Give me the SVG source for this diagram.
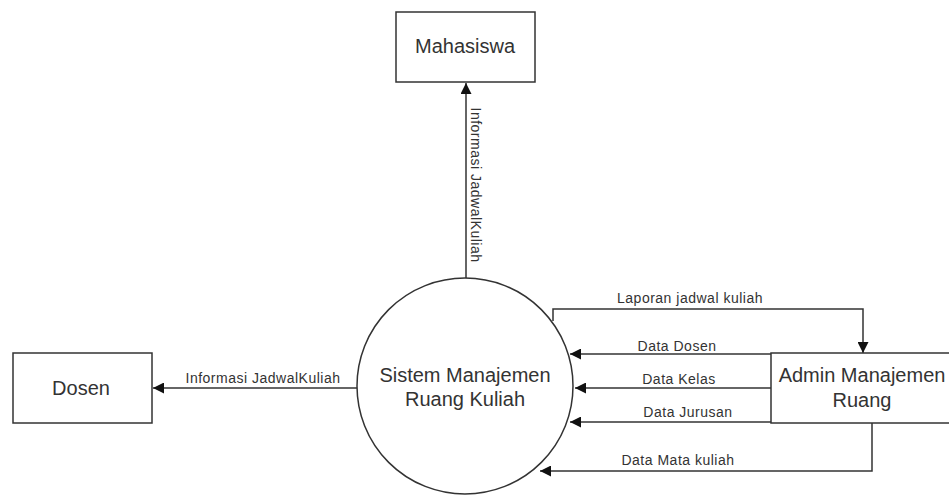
<svg xmlns="http://www.w3.org/2000/svg" width="949" height="497" viewBox="0 0 949 497">
<defs>
<style>
.box{fill:#fff;stroke:#333;stroke-width:1.5}
.ln{fill:none;stroke:#333;stroke-width:1.5}
.t{font-family:"Liberation Sans",Arial,sans-serif;fill:#333;text-anchor:middle}
.big{font-size:20px}
.sm{font-size:14px;letter-spacing:0.5px}
</style>
<marker id="ah" viewBox="0 0 10 10" refX="10" refY="5" markerWidth="13" markerHeight="11" markerUnits="userSpaceOnUse" orient="auto">
<path d="M0,0 L10,5 L0,10 z" fill="#111"/>
</marker>
</defs>
<rect width="949" height="497" fill="#fff"/>
<g id="connectors">
<path class="ln" d="M466,278 V83" marker-end="url(#ah)"/>
<path class="ln" d="M357,388 H153" marker-end="url(#ah)"/>
<path class="ln" d="M553,321 V309 H863 V353" marker-end="url(#ah)"/>
<path class="ln" d="M771,354 H570" marker-end="url(#ah)"/>
<path class="ln" d="M771,388 H575" marker-end="url(#ah)"/>
<path class="ln" d="M771,422 H570" marker-end="url(#ah)"/>
<path class="ln" d="M872,423 V471 H540" marker-end="url(#ah)"/>
<text class="t sm" transform="translate(471,185) rotate(90)">Informasi JadwalKuliah</text>
<text class="t sm" x="263" y="383">Informasi JadwalKuliah</text>
<text class="t sm" x="690" y="303">Laporan jadwal kuliah</text>
<text class="t sm" x="677" y="351">Data Dosen</text>
<text class="t sm" x="679" y="384">Data Kelas</text>
<text class="t sm" x="688" y="417">Data Jurusan</text>
<text class="t sm" x="678" y="465">Data Mata kuliah</text>
</g>
<g id="mahasiswa">
<rect class="box" x="396" y="12" width="139" height="70"/>
<text class="t big" x="465" y="53">Mahasiswa</text>
</g>
<g id="dosen">
<rect class="box" x="13" y="353" width="139" height="70"/>
<text class="t big" x="81" y="395">Dosen</text>
</g>
<g id="sistem">
<circle class="box" cx="465" cy="386" r="108"/>
<text class="t big" x="465" y="382">Sistem Manajemen</text>
<text class="t big" x="465" y="406">Ruang Kuliah</text>
</g>
<g id="admin">
<rect class="box" x="771" y="353" width="200" height="70"/>
<text class="t big" x="862" y="382">Admin Manajemen</text>
<text class="t big" x="862" y="407">Ruang</text>
</g>
</svg>
